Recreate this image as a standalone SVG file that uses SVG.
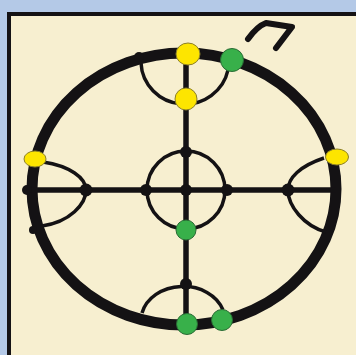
<svg xmlns="http://www.w3.org/2000/svg" width="356" height="355" viewBox="0 0 356 355">
<style>
.ring{fill:none;stroke:#141214;stroke-width:11}
.ln{fill:none;stroke:#141214;stroke-width:5.5}
.arc{fill:none;stroke:#141214;stroke-width:3.5}
.blk{fill:#141214}
.yel{fill:#fde500;stroke:#8a7e2a;stroke-width:1}
.grn{fill:#38b04a;stroke:#2a6b35;stroke-width:1}
</style>
<rect x="0" y="0" width="356" height="355" fill="#b4c9e7"/>
<rect x="9" y="14" width="360" height="360" fill="#f7efd0" stroke="#141214" stroke-width="4"/>
<g id="connectors">
<ellipse class="ring" cx="184" cy="189" rx="152" ry="136"/>
<line class="ln" x1="30" y1="190" x2="336" y2="190"/>
<line class="ln" x1="186" y1="54" x2="186" y2="324"/>
<circle class="arc" cx="186" cy="190" r="39"/>
<path class="arc" d="M141,63 A44,43 0 0 0 228,70"/>
<path class="arc" d="M142,313 A42,34 0 0 1 223,310"/>
<path class="arc" d="M43,162 C70,166 86,178 86,190 C86,204 70,222 42,226"/>
<path class="arc" d="M324,158 C300,166 288,178 288,190 C288,206 304,226 326,232"/>
<path d="M248,39 C253,32 258,26 266,23 L292,27 L276,48" fill="none" stroke="#141214" stroke-width="6" stroke-linecap="round" stroke-linejoin="round"/>
</g>
<g id="n-ring-tl"><circle class="blk" cx="139" cy="57" r="5"/></g>
<g id="n-ring-bl"><circle class="blk" cx="137" cy="318" r="5"/></g>
<g id="n-ring-l"><circle class="blk" cx="27" cy="190" r="5"/></g>
<g id="n-ring-ll"><circle class="blk" cx="33" cy="230" r="4"/></g>
<g id="n-left"><circle class="blk" cx="86" cy="190" r="6.5"/></g>
<g id="n-right"><circle class="blk" cx="288" cy="190" r="6.5"/></g>
<g id="n-c-left"><circle class="blk" cx="146" cy="190" r="6"/></g>
<g id="n-c-right"><circle class="blk" cx="227" cy="190" r="6"/></g>
<g id="n-center"><circle class="blk" cx="186" cy="190" r="6"/></g>
<g id="n-c-top"><circle class="blk" cx="186" cy="152" r="6"/></g>
<g id="n-bottom"><circle class="blk" cx="186" cy="284" r="6"/></g>
<g id="y-top"><ellipse class="yel" cx="188" cy="54" rx="12" ry="11"/></g>
<g id="y-mid"><circle class="yel" cx="186" cy="99" r="11"/></g>
<g id="g-top"><circle class="grn" cx="232" cy="60" r="11.5"/></g>
<g id="y-left"><ellipse class="yel" cx="35" cy="159" rx="11" ry="8"/></g>
<g id="y-right"><ellipse class="yel" cx="337" cy="157" rx="11.5" ry="8"/></g>
<g id="g-center"><circle class="grn" cx="186" cy="230" r="10"/></g>
<g id="g-bottom"><circle class="grn" cx="187" cy="324" r="10.5"/></g>
<g id="g-bottom-r"><circle class="grn" cx="222" cy="320" r="10.5"/></g>
</svg>
